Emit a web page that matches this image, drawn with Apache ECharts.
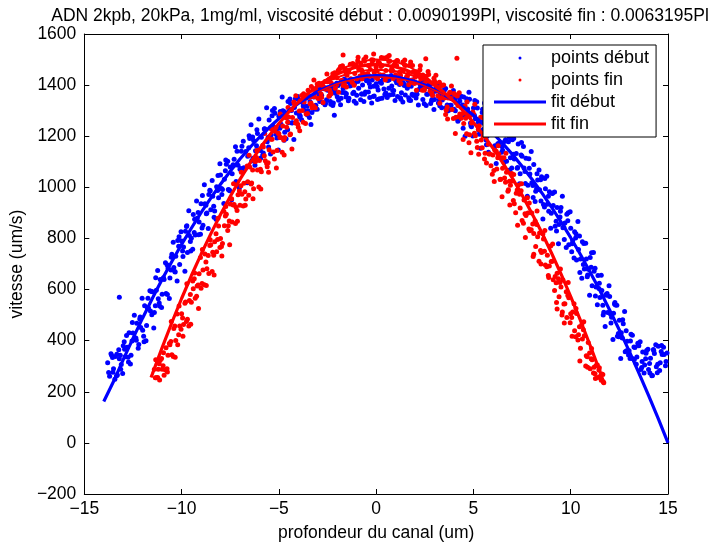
<!DOCTYPE html>
<html>
<head>
<meta charset="utf-8">
<script src="https://cdn.jsdelivr.net/npm/echarts@6/dist/echarts.min.js"></script>
<style>html,body{margin:0;padding:0;background:#fff;}#c{width:717px;height:547px;}</style>
</head>
<body>
<div id="c"></div>
<script>
const titleText = 'ADN 2kpb, 20kPa, 1mg/ml, viscosité début : 0.0090199Pl, viscosité fin : 0.0063195Pl';
const xName = 'profondeur du canal (um)';
const yName = 'vitesse (um/s)';
const legendNames = ['points début', 'points fin', 'fit début', 'fit fin'];
const xTicks = {min: -15, max: 15, step: 5};
const yTicks = {min: -200, max: 1600, step: 200};

const debutPoints = [[-13.8,314],[-13.7,261],[-13.6,343],[-13.5,290],[-13.4,338],[-13.3,266],[-13.2,329],[-13.1,307],[-13.0,380],[-12.9,337],[-12.8,374],[-12.7,431],[-12.6,343],[-12.5,430],[-12.4,407],[-12.3,468],[-12.2,385],[-12.1,452],[-12.0,441],[-11.9,537],[-11.8,459],[-11.7,528],[-11.6,516],[-11.5,591],[-11.4,510],[-11.3,597],[-11.2,564],[-11.1,639],[-11.0,582],[-10.9,639],[-10.8,585],[-10.7,684],[-10.6,645],[-10.5,738],[-10.4,686],[-10.3,730],[-10.2,792],[-10.1,698],[-10.0,790],[-9.9,767],[-9.8,828],[-9.7,745],[-9.6,812],[-9.5,801],[-9.4,894],[-9.3,813],[-9.2,879],[-9.1,864],[-9.0,936],[-8.9,852],[-8.8,936],[-8.7,900],[-8.6,972],[-8.5,912],[-8.4,965],[-8.3,907],[-8.2,1002],[-8.1,959],[-8.0,1048],[-7.9,992],[-7.8,1032],[-7.7,1090],[-7.6,992],[-7.5,1080],[-7.4,1053],[-7.3,1110],[-7.2,1023],[-7.1,1086],[-7.0,1071],[-6.9,1161],[-6.8,1077],[-6.7,1140],[-6.6,1122],[-6.5,1191],[-6.4,1103],[-6.3,1183],[-6.2,1143],[-6.1,1211],[-6.0,1147],[-5.9,1196],[-5.8,1134],[-5.7,1225],[-5.6,1178],[-5.5,1263],[-5.4,1204],[-5.3,1240],[-5.2,1290],[-5.1,1193],[-5.0,1278],[-4.9,1248],[-4.8,1300],[-4.7,1216],[-4.6,1272],[-4.5,1254],[-4.4,1328],[-4.3,1253],[-4.2,1312],[-4.1,1291],[-4.0,1345],[-3.9,1279],[-3.8,1333],[-3.7,1302],[-3.6,1349],[-3.5,1300],[-3.4,1335],[-3.3,1293],[-3.2,1353],[-3.1,1321],[-3.0,1377],[-2.9,1336],[-2.8,1359],[-2.7,1389],[-2.6,1329],[-2.5,1380],[-2.4,1358],[-2.3,1392],[-2.2,1330],[-2.1,1368],[-2.0,1354],[-1.9,1405],[-1.8,1349],[-1.7,1387],[-1.6,1370],[-1.5,1412],[-1.4,1349],[-1.3,1398],[-1.2,1367],[-1.1,1407],[-1.0,1360],[-0.9,1388],[-0.8,1343],[-0.7,1400],[-0.6,1364],[-0.5,1417],[-0.4,1373],[-0.3,1393],[-0.2,1420],[-0.1,1357],[0.0,1405],[0.1,1381],[0.2,1413],[0.3,1349],[0.4,1385],[0.5,1369],[0.6,1418],[0.7,1361],[0.8,1397],[0.9,1379],[1.0,1419],[1.1,1355],[1.2,1402],[1.3,1370],[1.4,1409],[1.5,1361],[1.6,1388],[1.7,1341],[1.8,1396],[1.9,1359],[2.0,1410],[2.1,1364],[2.2,1383],[2.3,1408],[2.4,1344],[2.5,1390],[2.6,1364],[2.7,1394],[2.8,1328],[2.9,1362],[3.0,1344],[3.1,1390],[3.2,1330],[3.3,1363],[3.4,1342],[3.5,1379],[3.6,1312],[3.7,1356],[3.8,1321],[3.9,1357],[4.0,1306],[4.1,1332],[4.2,1259],[4.3,1338],[4.4,1280],[4.5,1353],[4.6,1282],[4.7,1307],[4.8,1345],[4.9,1237],[5.0,1310],[5.1,1268],[5.2,1310],[5.3,1208],[5.4,1256],[5.5,1226],[5.6,1300],[5.7,1200],[5.8,1247],[5.9,1213],[6.0,1266],[6.1,1163],[6.2,1227],[6.3,1172],[6.4,1224],[6.5,1145],[6.6,1179],[6.7,1102],[6.8,1178],[6.9,1116],[7.0,1186],[7.1,1111],[7.2,1132],[7.3,1170],[7.4,1053],[7.5,1122],[7.6,1076],[7.7,1114],[7.8,1008],[7.9,1052],[8.0,1018],[8.1,1089],[8.2,985],[8.3,1029],[8.4,991],[8.5,1041],[8.6,933],[8.7,994],[8.8,934],[8.9,983],[9.0,899],[9.1,929],[9.2,848],[9.3,921],[9.4,855],[9.5,921],[9.6,842],[9.7,860],[9.8,895],[9.9,775],[10.0,840],[10.1,791],[10.2,826],[10.3,716],[10.4,757],[10.5,720],[10.6,787],[10.7,680],[10.8,720],[10.9,679],[11.0,725],[11.1,615],[11.2,672],[11.3,610],[11.4,655],[11.5,569],[11.6,596],[11.7,511],[11.8,580],[11.9,510],[12.0,573],[12.1,492],[12.2,507],[12.3,540],[12.4,417],[12.5,480],[12.6,431],[12.7,466],[12.8,357],[12.9,398],[13.0,361],[13.1,425],[13.2,329],[13.3,373],[13.4,336],[13.5,380],[13.6,287],[13.7,356],[13.8,305],[13.9,362],[14.0,287],[14.1,331],[14.2,264],[14.3,350],[14.4,298],[14.5,378],[14.6,314],[14.7,346],[14.8,346],[14.9,318],
[-13.75,275],[-13.55,334],[-13.35,262],[-13.15,343],[-12.95,396],[-12.75,335],[-12.55,399],[-12.35,410],[-12.15,485],[-11.95,417],[-11.75,527],[-11.55,592],[-11.35,537],[-11.15,547],[-10.95,642],[-10.75,697],[-10.55,677],[-10.35,671],[-10.15,769],[-9.95,751],[-9.75,847],[-9.55,788],[-9.35,823],[-9.15,902],[-8.95,841],[-8.75,930],[-8.55,989],[-8.35,926],[-8.15,988],[-7.95,995],[-7.75,1065],[-7.55,990],[-7.35,1088],[-7.15,1141],[-6.95,1074],[-6.75,1072],[-6.55,1155],[-6.35,1197],[-6.15,1163],[-5.95,1144],[-5.75,1228],[-5.55,1196],[-5.35,1280],[-5.15,1208],[-4.95,1231],[-4.75,1298],[-4.55,1225],[-4.35,1301],[-4.15,1347],[-3.95,1286],[-3.75,1318],[-3.55,1317],[-3.35,1355],[-3.15,1306],[-2.95,1361],[-2.75,1388],[-2.55,1343],[-2.35,1336],[-2.15,1379],[-1.95,1398],[-1.75,1371],[-1.55,1353],[-1.35,1397],[-1.15,1372],[-0.95,1415],[-0.75,1365],[-0.55,1373],[-0.35,1406],[-0.15,1355],[0.05,1394],[0.25,1415],[0.45,1364],[0.65,1388],[0.85,1379],[1.05,1409],[1.25,1351],[1.45,1398],[1.65,1417],[1.85,1364],[2.05,1350],[2.25,1386],[2.45,1398],[2.65,1364],[2.85,1339],[3.05,1376],[3.25,1343],[3.45,1379],[3.65,1322],[3.85,1321],[4.05,1347],[4.25,1266],[4.45,1322],[4.65,1347],[4.85,1252],[5.05,1282],[5.25,1255],[5.45,1293],[5.65,1185],[5.85,1250],[6.05,1271],[6.25,1171],[6.45,1137],[6.65,1186],[6.85,1195],[7.05,1129],[7.25,1075],[7.45,1127],[7.65,1062],[7.85,1112],[8.05,1007],[8.25,996],[8.45,1030],[8.65,923],[8.85,965],[9.05,976],[9.25,867],[9.45,884],[9.65,844],[9.85,869],[10.05,748],[10.25,802],[10.45,810],[10.65,698],[10.85,650],[11.05,687],[11.25,683],[11.45,604],[11.65,539],[11.85,578],[12.05,503],[12.25,543],[12.45,428],[12.65,410],[12.85,439],[13.05,330],[13.25,375],[13.45,390],[13.65,295],[13.85,329],[14.05,311],[14.25,365],[14.45,274],[14.65,358],
[-13.63,349],[-13.43,249],[-13.23,364],[-13.03,272],[-12.83,420],[-12.63,309],[-12.43,499],[-12.23,370],[-12.03,566],[-11.83,400],[-11.63,595],[-11.43,450],[-11.23,675],[-11.03,530],[-10.83,705],[-10.63,565],[-10.43,785],[-10.23,633],[-10.03,826],[-9.83,672],[-9.63,908],[-9.43,758],[-9.23,947],[-9.03,816],[-8.83,1010],[-8.63,839],[-8.43,1027],[-8.23,875],[-8.03,1092],[-7.83,937],[-7.63,1102],[-7.43,951],[-7.23,1159],[-7.03,997],[-6.83,1180],[-6.63,1018],[-6.43,1245],[-6.23,1086],[-6.03,1267],[-5.83,1127],[-5.63,1311],[-5.43,1130],[-5.23,1308],[-5.03,1146],[-4.83,1353],[-4.63,1190],[-4.43,1346],[-4.23,1187],[-4.03,1355],[-3.83,1264],[-3.63,1355],[-3.43,1273],[-3.23,1386],[-3.03,1306],[-2.83,1395],[-2.63,1323],[-2.43,1414],[-2.23,1320],[-2.03,1407],[-1.83,1323],[-1.63,1424],[-1.43,1339],[-1.23,1414],[-1.03,1329],[-0.83,1426],[-0.63,1336],[-0.43,1420],[-0.23,1330],[-0.03,1435],[0.17,1347],[0.37,1430],[0.57,1352],[0.77,1438],[0.97,1340],[1.17,1422],[1.37,1334],[1.57,1430],[1.77,1340],[1.97,1411],[2.17,1322],[2.37,1415],[2.57,1320],[2.77,1399],[2.97,1305],[3.17,1405],[3.37,1311],[3.57,1387],[3.77,1303],[3.97,1379],[4.17,1268],[4.37,1356],[4.57,1200],[4.77,1372],[4.97,1201],[5.17,1335],[5.37,1153],[5.57,1330],[5.77,1137],[5.97,1287],[6.17,1093],[6.37,1288],[6.57,1097],[6.77,1247],[6.97,1076],[7.17,1228],[7.37,1014],[7.57,1160],[7.77,965],[7.97,1140],[8.17,945],[8.37,1068],[8.57,876],[8.77,1043],[8.97,840],[9.17,982],[9.37,779],[9.57,965],[9.77,765],[9.97,904],[10.17,723],[10.37,866],[10.57,644],[10.77,781],[10.97,578],[11.17,745],[11.37,541],[11.57,656],[11.77,455],[11.97,615],[12.17,405],[12.37,539],[12.57,330],[12.77,514],[12.97,344],[13.17,421],[13.37,308],[13.57,396],[13.77,273],[13.97,366],[14.17,263],[14.37,384],[14.57,283],[14.77,374],
[-13.53,276],[-13.33,347],[-13.13,288],[-12.93,366],[-12.73,317],[-12.53,471],[-12.33,402],[-12.13,493],[-11.93,396],[-11.73,566],[-11.53,501],[-11.33,646],[-11.13,536],[-10.93,646],[-10.73,581],[-10.53,726],[-10.33,669],[-10.13,807],[-9.93,729],[-9.73,850],[-9.53,751],[-9.33,875],[-9.13,814],[-8.93,968],[-8.73,897],[-8.53,986],[-8.33,883],[-8.13,1046],[-7.93,972],[-7.73,1107],[-7.53,987],[-7.33,1085],[-7.13,1008],[-6.93,1141],[-6.73,1074],[-6.53,1202],[-6.33,1114],[-6.13,1225],[-5.93,1115],[-5.73,1229],[-5.53,1158],[-5.33,1301],[-5.13,1220],[-4.93,1297],[-4.73,1184],[-4.53,1336],[-4.33,1252],[-4.13,1346],[-3.93,1275],[-3.73,1327],[-3.53,1283],[-3.33,1354],[-3.13,1315],[-2.93,1383],[-2.73,1331],[-2.53,1389],[-2.33,1325],[-2.13,1384],[-1.93,1341],[-1.73,1415],[-1.53,1366],[-1.33,1405],[-1.13,1337],[-0.93,1415],[-0.73,1365],[-0.53,1429],[-0.33,1352],[-0.13,1396],[0.07,1344],[0.27,1407],[0.47,1360],[0.67,1421],[0.87,1363],[1.07,1415],[1.27,1345],[1.47,1400],[1.67,1351],[1.87,1420],[2.07,1366],[2.27,1399],[2.47,1327],[2.67,1400],[2.87,1344],[3.07,1402],[3.27,1319],[3.47,1357],[3.67,1299],[3.87,1354],[4.07,1300],[4.27,1351],[4.47,1231],[4.67,1337],[4.87,1241],[5.07,1340],[5.27,1223],[5.47,1306],[5.67,1167],[5.87,1253],[6.07,1154],[6.27,1269],[6.47,1160],[6.67,1209],[6.87,1068],[7.07,1191],[7.27,1078],[7.47,1175],[7.67,1015],[7.87,1075],[8.07,960],[8.27,1053],[8.47,947],[8.67,1035],[8.87,906],[9.07,978],[9.27,829],[9.47,906],[9.67,796],[9.87,901],[10.07,779],[10.27,818],[10.47,667],[10.67,780],[10.87,657],[11.07,744],[11.27,575],[11.47,625],[11.67,500],[11.87,585],[12.07,469],[12.27,549],[12.47,415],[12.67,482],[12.87,361],[13.07,399],[13.27,326],[13.47,383],[13.67,318],[13.87,351],[14.07,273],[14.27,361],[14.47,308],[14.67,381],[14.87,302],
[-13.2,570],[-3.35,1246],[-2.15,1282],[14.95,352]];

const finPoints = [[-11.4,288],[-11.3,255],[-11.2,288],[-11.1,323],[-11.0,288],[-10.9,265],[-10.8,372],[-10.7,343],[-10.6,384],[-10.5,345],[-10.4,448],[-10.3,401],[-10.2,384],[-10.1,457],[-10.0,505],[-9.9,463],[-9.8,551],[-9.7,484],[-9.6,557],[-9.5,550],[-9.4,603],[-9.3,566],[-9.2,614],[-9.1,662],[-9.0,605],[-8.9,677],[-8.8,739],[-8.7,681],[-8.6,663],[-8.5,775],[-8.4,746],[-8.3,787],[-8.2,748],[-8.1,849],[-8.0,800],[-7.9,780],[-7.8,850],[-7.7,895],[-7.6,850],[-7.5,935],[-7.4,864],[-7.3,933],[-7.2,922],[-7.1,971],[-7.0,930],[-6.9,973],[-6.8,1016],[-6.7,954],[-6.6,1022],[-6.5,1080],[-6.4,1017],[-6.3,994],[-6.2,1101],[-6.1,1068],[-6.0,1105],[-5.9,1061],[-5.8,1158],[-5.7,1104],[-5.6,1081],[-5.5,1147],[-5.4,1188],[-5.3,1138],[-5.2,1219],[-5.1,1144],[-5.0,1210],[-4.9,1195],[-4.8,1240],[-4.7,1195],[-4.6,1235],[-4.5,1275],[-4.4,1209],[-4.3,1273],[-4.2,1327],[-4.1,1261],[-4.0,1235],[-3.9,1338],[-3.8,1301],[-3.7,1334],[-3.6,1287],[-3.5,1380],[-3.4,1327],[-3.3,1311],[-3.2,1354],[-3.1,1381],[-3.0,1349],[-2.9,1400],[-2.8,1352],[-2.7,1394],[-2.6,1384],[-2.5,1413],[-2.4,1382],[-2.3,1407],[-2.2,1432],[-2.1,1388],[-2.0,1429],[-1.9,1462],[-1.8,1417],[-1.7,1398],[-1.6,1464],[-1.5,1439],[-1.4,1458],[-1.3,1425],[-1.2,1485],[-1.1,1445],[-1.0,1425],[-0.9,1463],[-0.8,1484],[-0.7,1447],[-0.6,1493],[-0.5,1440],[-0.4,1477],[-0.3,1461],[-0.2,1485],[-0.1,1449],[0.0,1470],[0.1,1490],[0.2,1441],[0.3,1477],[0.4,1506],[0.5,1457],[0.6,1433],[0.7,1494],[0.8,1464],[0.9,1478],[1.0,1441],[1.1,1495],[1.2,1450],[1.3,1425],[1.4,1459],[1.5,1477],[1.6,1435],[1.7,1477],[1.8,1419],[1.9,1451],[2.0,1431],[2.1,1450],[2.2,1409],[2.3,1425],[2.4,1440],[2.5,1387],[2.6,1418],[2.7,1442],[2.8,1387],[2.9,1359],[3.0,1416],[3.1,1381],[3.2,1391],[3.3,1349],[3.4,1399],[3.5,1350],[3.6,1302],[3.7,1350],[3.8,1372],[3.9,1305],[4.0,1367],[4.1,1274],[4.2,1320],[4.3,1287],[4.4,1313],[4.5,1250],[4.6,1270],[4.7,1291],[4.8,1206],[4.9,1252],[5.0,1287],[5.1,1202],[5.2,1156],[5.3,1241],[5.4,1185],[5.5,1200],[5.6,1133],[5.7,1207],[5.8,1130],[5.9,1084],[6.0,1127],[6.1,1145],[6.2,1072],[6.3,1130],[6.4,1032],[6.5,1075],[6.6,1037],[6.7,1059],[6.8,991],[6.9,1008],[7.0,1025],[7.1,936],[7.2,977],[7.3,1008],[7.4,919],[7.5,870],[7.6,950],[7.7,890],[7.8,900],[7.9,830],[8.0,900],[8.1,819],[8.2,768],[8.3,807],[8.4,821],[8.5,745],[8.6,798],[8.7,696],[8.8,734],[8.9,692],[9.0,710],[9.1,638],[9.2,651],[9.3,664],[9.4,572],[9.5,610],[9.6,637],[9.7,544],[9.8,491],[9.9,568],[10.0,505],[10.1,512],[10.2,439],[10.3,506],[10.4,423],[10.5,370],[10.6,407],[10.7,419],[10.8,341],[10.9,393],[11.0,290],[11.1,325],[11.2,296],[11.3,303],[11.4,256],[11.5,260],[11.6,270],[11.7,235],
[-11.35,255],[-11.15,310],[-10.95,302],[-10.75,290],[-10.55,397],[-10.35,457],[-10.15,423],[-9.95,489],[-9.75,475],[-9.55,581],[-9.35,642],[-9.15,618],[-8.95,624],[-8.75,708],[-8.55,772],[-8.35,734],[-8.15,796],[-7.95,768],[-7.75,888],[-7.55,868],[-7.35,931],[-7.15,909],[-6.95,1006],[-6.75,983],[-6.55,969],[-6.35,1068],[-6.15,1117],[-5.95,1071],[-5.75,1124],[-5.55,1096],[-5.35,1188],[-5.15,1234],[-4.95,1195],[-4.75,1185],[-4.55,1255],[-4.35,1304],[-4.15,1252],[-3.95,1299],[-3.75,1255],[-3.55,1361],[-3.35,1330],[-3.15,1368],[-2.95,1348],[-2.75,1407],[-2.55,1387],[-2.35,1372],[-2.15,1431],[-1.95,1457],[-1.75,1419],[-1.55,1447],[-1.35,1421],[-1.15,1473],[-0.95,1495],[-0.75,1459],[-0.55,1442],[-0.35,1478],[-0.15,1498],[0.05,1454],[0.25,1473],[0.45,1434],[0.65,1492],[0.85,1456],[1.05,1477],[1.25,1439],[1.45,1481],[1.65,1443],[1.85,1410],[2.05,1452],[2.25,1460],[2.45,1405],[2.65,1416],[2.85,1372],[3.05,1407],[3.25,1411],[3.45,1360],[3.65,1314],[3.85,1348],[4.05,1363],[4.25,1276],[4.45,1289],[4.65,1210],[4.85,1281],[5.05,1212],[5.25,1226],[5.45,1155],[5.65,1203],[5.85,1130],[6.05,1066],[6.25,1116],[6.45,1116],[6.65,1020],[6.85,1024],[7.05,948],[7.25,990],[7.45,987],[7.65,897],[7.85,837],[8.05,857],[8.25,855],[8.45,753],[8.65,750],[8.85,655],[9.05,711],[9.25,627],[9.45,628],[9.65,543],[9.85,577],[10.05,491],[10.25,415],[10.45,454],[10.65,443],[10.85,337],[11.05,329],[11.25,271],[11.45,285],[11.65,268],
[-11.33,325],[-11.13,246],[-10.93,353],[-10.73,277],[-10.53,475],[-10.33,335],[-10.13,536],[-9.93,417],[-9.73,623],[-9.53,464],[-9.33,665],[-9.13,526],[-8.93,757],[-8.73,616],[-8.53,795],[-8.33,657],[-8.13,879],[-7.93,731],[-7.73,925],[-7.53,775],[-7.33,1014],[-7.13,867],[-6.93,1059],[-6.73,930],[-6.53,1126],[-6.33,955],[-6.13,1144],[-5.93,993],[-5.73,1211],[-5.53,1059],[-5.33,1225],[-5.13,1076],[-4.93,1287],[-4.73,1127],[-4.53,1312],[-4.33,1150],[-4.13,1358],[-3.93,1221],[-3.73,1366],[-3.53,1289],[-3.33,1395],[-3.13,1311],[-2.93,1407],[-2.73,1332],[-2.53,1443],[-2.33,1365],[-2.13,1448],[-1.93,1372],[-1.73,1476],[-1.53,1393],[-1.33,1482],[-1.13,1399],[-0.93,1509],[-0.73,1424],[-0.53,1510],[-0.33,1435],[-0.13,1522],[0.07,1425],[0.27,1508],[0.47,1420],[0.67,1516],[0.87,1426],[1.07,1496],[1.27,1406],[1.47,1498],[1.67,1401],[1.87,1477],[2.07,1380],[2.27,1476],[2.47,1380],[2.67,1453],[2.87,1365],[3.07,1439],[3.27,1329],[3.47,1400],[3.67,1267],[3.87,1397],[4.07,1211],[4.27,1370],[4.47,1187],[4.67,1334],[4.87,1135],[5.07,1325],[5.27,1129],[5.47,1273],[5.67,1095],[5.87,1242],[6.07,1023],[6.27,1163],[6.47,963],[6.67,1133],[6.87,931],[7.07,1050],[7.27,852],[7.47,1014],[7.67,804],[7.87,939],[8.07,729],[8.27,907],[8.47,700],[8.67,831],[8.87,647],[9.07,778],[9.27,549],[9.47,680],[9.67,469],[9.87,628],[10.07,417],[10.27,526],[10.47,320],[10.67,474],[10.87,296],[11.07,369],[11.27,252],[11.47,294],[11.67,239],
[-11.23,256],[-11.03,330],[-10.83,285],[-10.63,389],[-10.43,338],[-10.23,504],[-10.03,445],[-9.83,546],[-9.63,457],[-9.43,633],[-9.23,574],[-9.03,725],[-8.83,619],[-8.63,733],[-8.43,671],[-8.23,818],[-8.03,765],[-7.83,906],[-7.63,831],[-7.43,955],[-7.23,858],[-7.03,986],[-6.83,927],[-6.63,1083],[-6.43,1013],[-6.23,1102],[-6.03,1001],[-5.83,1165],[-5.63,1093],[-5.43,1230],[-5.23,1111],[-5.03,1212],[-4.83,1137],[-4.63,1272],[-4.43,1206],[-4.23,1334],[-4.03,1247],[-3.83,1359],[-3.63,1250],[-3.43,1352],[-3.23,1319],[-3.03,1404],[-2.83,1365],[-2.63,1414],[-2.43,1356],[-2.23,1444],[-2.03,1402],[-1.83,1473],[-1.63,1404],[-1.43,1455],[-1.23,1410],[-1.03,1479],[-0.83,1436],[-0.63,1500],[-0.43,1445],[-0.23,1499],[-0.03,1431],[0.17,1487],[0.37,1440],[0.57,1510],[0.77,1456],[0.97,1490],[1.17,1417],[1.37,1490],[1.57,1433],[1.77,1490],[1.97,1406],[2.17,1441],[2.37,1380],[2.57,1435],[2.77,1377],[2.97,1427],[3.17,1358],[3.37,1398],[3.57,1285],[3.77,1369],[3.97,1269],[4.17,1357],[4.37,1270],[4.57,1318],[4.77,1174],[4.97,1295],[5.17,1180],[5.37,1274],[5.57,1111],[5.77,1169],[5.97,1051],[6.17,1141],[6.37,1031],[6.57,1116],[6.77,985],[6.97,1054],[7.17,901],[7.37,973],[7.57,859],[7.77,959],[7.97,834],[8.17,868],[8.37,711],[8.57,818],[8.77,689],[8.97,770],[9.17,596],[9.37,642],[9.57,512],[9.77,591],[9.97,470],[10.17,544],[10.37,403],[10.57,462],[10.77,301],[10.97,352],[11.17,273],[11.37,305],[11.57,245],
[9.3,524],[8.1,738],[9.55,500],[4.15,1505],[2.55,1503],[-1.7,1518],[-3.2,1420]];

const fitDebut = [[-14,162],[-13.5,240],[-13,326],[-12.5,409],[-12,489],[-11.5,566],[-11,640],[-10.5,710],[-10,777],[-9.5,840],[-9,901],[-8.5,958],[-8,1012],[-7.5,1063],[-7,1111],[-6.5,1155],[-6,1196],[-5.5,1234],[-5,1269],[-4.5,1300],[-4,1328],[-3.5,1353],[-3,1375],[-2.5,1393],[-2,1408],[-1.5,1420],[-1,1429],[-0.5,1435],[0,1437],[0.5,1436],[1,1432],[1.5,1424],[2,1414],[2.5,1400],[3,1383],[3.5,1362],[4,1339],[4.5,1312],[5,1282],[5.5,1248],[6,1212],[6.5,1172],[7,1129],[7.5,1082],[8,1033],[8.5,980],[9,924],[9.5,865],[10,803],[10.5,737],[11,668],[11.5,596],[12,520],[12.5,442],[13,360],[13.5,274],[14,186],[14.5,95],[15,0]];

const fitFin = [[-11.57,256],[-11.5,270],[-11,373],[-10.5,471],[-10,565],[-9.5,654],[-9,738],[-8.5,818],[-8,894],[-7.5,964],[-7,1031],[-6.5,1093],[-6,1150],[-5.5,1202],[-5,1250],[-4.5,1294],[-4,1333],[-3.5,1367],[-3,1397],[-2.5,1422],[-2,1443],[-1.5,1459],[-1,1471],[-0.5,1478],[0,1480],[0.5,1478],[1,1471],[1.5,1460],[2,1444],[2.5,1424],[3,1399],[3.5,1370],[4,1336],[4.5,1297],[5,1254],[5.5,1206],[6,1154],[6.5,1097],[7,1036],[7.5,970],[8,899],[8.5,825],[9,745],[9.5,661],[10,572],[10.5,479],[11,381],[11.5,279],[11.68,240]];
const fitFinHigh = [[-3,1397],[-2.5,1426],[-2,1452],[-1.5,1472],[-1,1486],[-0.5,1496],[0,1500],[0.5,1498],[1,1491],[1.5,1478],[2,1459],[2.5,1434],[3,1404],[3.5,1370]];
const fitFinMid = [[-3,1397],[-2,1430],[-1,1452],[0,1460],[1,1454],[2,1434],[3,1401],[3.5,1374]];
const fitFinLow = [[-3,1372],[-2,1405],[-1,1424],[0,1432],[1,1427],[2,1410],[3,1380],[3.5,1360]];

const FONT = 'Liberation Sans, Arial, Helvetica, sans-serif';
const minus = v => String(v).replace('-', '\u2212');
const axisCommon = {
  axisLine: {show: true, onZero: false, lineStyle: {color: '#000', width: 1}},
  axisTick: {show: true, inside: true, length: 5, lineStyle: {color: '#000'}},
  splitLine: {show: false}
};
const labelStyle = {color: '#000', fontSize: 17.5, fontFamily: FONT, formatter: minus, showMinLabel: true, showMaxLabel: true};
const nameStyle = {fontSize: 17.5, color: '#000', fontFamily: FONT};

const chart = echarts.init(document.getElementById('c'), null, {renderer: 'canvas'});
chart.setOption({
  animation: false,
  backgroundColor: '#fff',
  title: {
    text: titleText, left: 375, top: 2, textAlign: 'center',
    textStyle: {fontSize: 17.5, fontWeight: 'normal', color: '#000', fontFamily: FONT}
  },
  grid: {left: 82, right: 49, top: 34, bottom: 50, containLabel: false},
  legend: {
    data: [
      {name: legendNames[0], icon: 'circle'},
      {name: legendNames[1], icon: 'circle'},
      {name: legendNames[2], icon: 'rect'},
      {name: legendNames[3], icon: 'rect'}
    ],
    orient: 'vertical', left: 483, top: 45,
    itemWidth: 52, itemHeight: 3, itemGap: 4,
    padding: [4, 7, 4, 11], borderColor: '#000', borderWidth: 1, backgroundColor: '#fff',
    textStyle: {fontSize: 18, color: '#000', fontFamily: FONT}
  },
  xAxis: [
    Object.assign({type: 'value', position: 'bottom', min: xTicks.min, max: xTicks.max, interval: xTicks.step,
      name: xName, nameLocation: 'middle', nameGap: 30, nameTextStyle: nameStyle,
      axisLabel: Object.assign({margin: 6}, labelStyle)}, axisCommon),
    Object.assign({type: 'value', position: 'top', min: xTicks.min, max: xTicks.max, interval: xTicks.step,
      axisLabel: {show: false}}, axisCommon)
  ],
  yAxis: [
    Object.assign({type: 'value', position: 'left', min: yTicks.min, max: yTicks.max, interval: yTicks.step,
      name: yName, nameLocation: 'middle', nameGap: 54, nameTextStyle: nameStyle,
      axisLabel: Object.assign({margin: 8}, labelStyle)}, axisCommon),
    Object.assign({type: 'value', position: 'right', min: yTicks.min, max: yTicks.max, interval: yTicks.step,
      axisLabel: {show: false}}, axisCommon)
  ],
  series: [
    {name: legendNames[0], type: 'scatter', data: debutPoints, symbolSize: 5, itemStyle: {color: '#0000ff', opacity: 1}},
    {name: legendNames[1], type: 'scatter', data: finPoints, symbolSize: 5, itemStyle: {color: '#ff0000', opacity: 1}},
    {name: legendNames[2], type: 'line', data: fitDebut, symbol: 'none', lineStyle: {color: '#0000ff', width: 3.2}, itemStyle: {color: '#0000ff'}},
    {name: legendNames[3], type: 'line', data: fitFinLow, symbol: 'none', smooth: true, lineStyle: {color: '#ff0000', width: 1.5}, itemStyle: {color: '#ff0000'}},
    {name: legendNames[3], type: 'line', data: fitFinHigh, symbol: 'none', smooth: true, lineStyle: {color: '#ff0000', width: 2}, itemStyle: {color: '#ff0000'}},
    {name: legendNames[3], type: 'line', data: fitFinMid, symbol: 'none', smooth: true, lineStyle: {color: '#ff0000', width: 2}, itemStyle: {color: '#ff0000'}},
    {name: legendNames[3], type: 'line', data: fitFin, symbol: 'none', lineStyle: {color: '#ff0000', width: 3.2}, itemStyle: {color: '#ff0000'}}
  ]
});
</script>
</body>
</html>
